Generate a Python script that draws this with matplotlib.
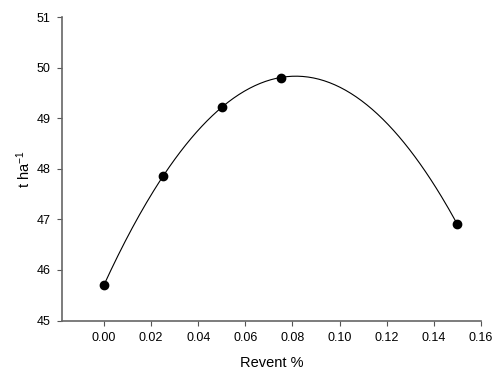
import numpy as np
import matplotlib.pyplot as plt

plt.rcParams['font.family'] = ['Liberation Sans', 'DejaVu Sans']
plt.rcParams['mathtext.default'] = 'regular'

# Observed data
revent = [0.0, 0.025, 0.05, 0.075, 0.15]
yield_t = [45.7, 47.85, 49.22, 49.8, 46.9]

# Quadratic regression curve through the points
coef = np.polyfit(revent, yield_t, 2)
x_fit = np.linspace(min(revent), max(revent), 200)
y_fit = np.polyval(coef, x_fit)

fig = plt.figure(figsize=(5, 3.78), dpi=100)
ax = fig.add_axes([0.124, 0.152, 0.838, 0.803])

ax.plot(x_fit, y_fit, color='black', lw=0.8)
ax.plot(revent, yield_t, 'o', color='black', markersize=6)

ax.set_xlim(-0.0178, 0.16)
ax.set_ylim(45, 51)
ax.set_xticks(np.arange(0, 0.161, 0.02))
ax.set_xticklabels([f'{v:.2f}' for v in np.arange(0, 0.161, 0.02)])
ax.set_yticks(range(45, 52))

for s in ['top', 'right']:
    ax.spines[s].set_visible(False)
for s in ['left', 'bottom']:
    ax.spines[s].set_color('#666666')
    ax.spines[s].set_linewidth(1.2)
ax.tick_params(direction='out', length=3.5, width=0.8, color='#555555',
               labelsize=9, pad=4.5)

ax.set_xlabel('Revent %', fontsize=10.5, labelpad=9)
ax.set_ylabel('t ha$^{-1}$', fontsize=10.5, labelpad=3)

fig.savefig('out.png', dpi=100)
